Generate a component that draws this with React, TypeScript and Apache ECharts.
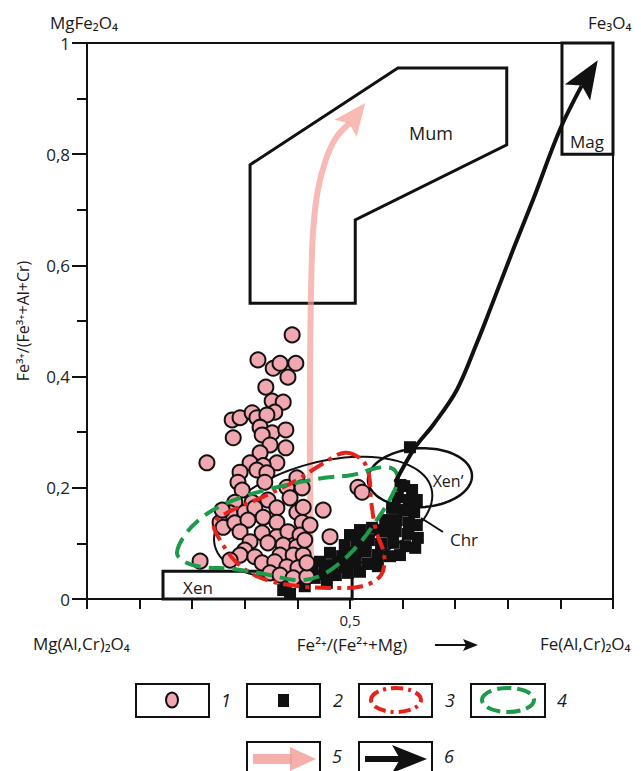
import React, { useEffect, useRef } from "react";
import * as echarts from "echarts";

// ---- data (x = Fe2+/(Fe2+ + Mg), y = Fe3+/(Fe3+ + Al + Cr)) ----
const pinkCircles: [number, number][] = [
  [0.390, 0.475], [0.325, 0.430], [0.354, 0.415], [0.367, 0.424], [0.397, 0.424],
  [0.382, 0.399], [0.340, 0.381], [0.352, 0.356], [0.373, 0.354], [0.357, 0.336],
  [0.276, 0.322], [0.291, 0.326], [0.314, 0.335], [0.323, 0.326], [0.342, 0.331],
  [0.278, 0.290], [0.329, 0.309], [0.352, 0.299], [0.378, 0.304], [0.333, 0.295],
  [0.348, 0.277], [0.378, 0.272], [0.228, 0.245], [0.329, 0.263], [0.361, 0.245],
  [0.310, 0.245], [0.335, 0.240], [0.291, 0.228], [0.323, 0.232], [0.342, 0.227],
  [0.287, 0.210], [0.338, 0.210], [0.295, 0.196], [0.380, 0.201], [0.399, 0.218],
  [0.409, 0.200], [0.281, 0.174], [0.314, 0.174], [0.344, 0.178], [0.386, 0.182],
  [0.272, 0.155], [0.300, 0.156], [0.319, 0.164], [0.361, 0.164], [0.335, 0.147],
  [0.361, 0.138], [0.399, 0.156], [0.409, 0.138], [0.253, 0.138], [0.259, 0.129],
  [0.281, 0.137], [0.306, 0.142], [0.291, 0.121], [0.333, 0.119], [0.361, 0.112],
  [0.382, 0.121], [0.405, 0.115], [0.310, 0.103], [0.344, 0.101], [0.373, 0.097],
  [0.399, 0.094], [0.300, 0.088], [0.291, 0.079], [0.319, 0.076], [0.367, 0.079],
  [0.392, 0.079], [0.411, 0.079], [0.272, 0.070], [0.215, 0.068], [0.333, 0.065],
  [0.357, 0.067], [0.380, 0.058], [0.401, 0.056], [0.348, 0.047], [0.367, 0.043],
  [0.392, 0.038], [0.418, 0.040], [0.449, 0.160], [0.462, 0.112], [0.515, 0.201],
  [0.523, 0.192], [0.414, 0.106], [0.418, 0.065], [0.411, 0.165], [0.424, 0.133],
  [0.257, 0.160],
];

const blackSquares: [number, number][] = [
  [0.614, 0.273], [0.603, 0.203], [0.618, 0.196], [0.591, 0.183], [0.612, 0.178],
  [0.580, 0.164], [0.603, 0.160], [0.622, 0.156], [0.567, 0.142], [0.589, 0.142],
  [0.612, 0.138], [0.627, 0.133], [0.542, 0.128], [0.565, 0.121], [0.587, 0.122],
  [0.610, 0.117], [0.629, 0.110], [0.519, 0.124], [0.500, 0.115], [0.490, 0.097],
  [0.513, 0.103], [0.536, 0.106], [0.559, 0.099], [0.582, 0.101], [0.605, 0.095],
  [0.462, 0.083], [0.485, 0.077], [0.508, 0.083], [0.530, 0.085], [0.553, 0.079],
  [0.576, 0.077], [0.443, 0.067], [0.466, 0.061], [0.489, 0.059], [0.511, 0.065],
  [0.534, 0.063], [0.428, 0.049], [0.451, 0.045], [0.473, 0.043], [0.496, 0.047],
  [0.405, 0.034], [0.378, 0.027], [0.386, 0.009], [0.373, 0.016],
  [0.596, 0.205], [0.627, 0.178], [0.585, 0.164], [0.557, 0.124],
  [0.529, 0.095], [0.504, 0.070], [0.477, 0.067], [0.452, 0.059], [0.433, 0.038],
  [0.456, 0.029], [0.414, 0.023], [0.624, 0.092], [0.595, 0.079], [0.553, 0.059],
  [0.519, 0.049],
];

// field outlines
const mumField: [number, number][] = [
  [0.310, 0.781], [0.591, 0.955], [0.798, 0.955], [0.798, 0.817],
  [0.510, 0.682], [0.510, 0.532], [0.310, 0.532],
];
const magField: [number, number][] = [[0.903, 0.8], [1.0, 0.8], [1.0, 1.0], [0.903, 1.0]];
const xenField: [number, number][] = [[0.1445, 0], [0.504, 0], [0.504, 0.05], [0.1445, 0.05]];

// contour 3 (red, dash-dot)
const contourRed: [number, number][] = [
  [0.490, 0.263], [0.523, 0.250], [0.536, 0.223], [0.540, 0.178], [0.549, 0.124],
  [0.565, 0.079], [0.559, 0.043], [0.523, 0.023], [0.462, 0.020], [0.386, 0.025],
  [0.325, 0.040], [0.283, 0.067], [0.255, 0.103], [0.241, 0.135], [0.268, 0.156],
  [0.333, 0.183], [0.399, 0.214], [0.447, 0.243],
];
// contour 4 (green, dashed)
const contourGreen: [number, number][] = [
  [0.171, 0.083], [0.186, 0.115], [0.215, 0.144], [0.253, 0.167], [0.300, 0.185],
  [0.348, 0.198], [0.399, 0.209], [0.452, 0.218], [0.504, 0.223], [0.553, 0.236],
  [0.582, 0.234], [0.591, 0.216], [0.578, 0.183], [0.551, 0.142], [0.519, 0.101],
  [0.481, 0.065], [0.439, 0.040], [0.397, 0.034], [0.338, 0.045], [0.278, 0.054],
  [0.215, 0.058], [0.183, 0.068],
];

// ellipses: center, semi-axes (data units), rotation (deg)
const chrEllipse = { center: [0.449, 0.147], radii: [0.213, 0.099], rot: 15 };
const xenPrimeEllipse = { center: [0.633, 0.218], radii: [0.099, 0.053], rot: 3 };

// trends
const trendPink: [number, number][] = [
  [0.426, 0.059], [0.424, 0.214], [0.424, 0.394], [0.426, 0.556], [0.430, 0.664],
  [0.439, 0.736], [0.454, 0.790], [0.473, 0.829], [0.492, 0.847], [0.529, 0.892],
];
const trendBlack: [number, number][] = [
  [0.586, 0.210], [0.624, 0.273], [0.658, 0.313], [0.703, 0.376], [0.741, 0.460],
  [0.766, 0.520], [0.810, 0.628], [0.848, 0.718], [0.899, 0.844], [0.933, 0.912],
  [0.971, 0.969],
];

const FONT = "'Open Sans', 'DejaVu Sans', sans-serif";
const PINK = "#f1a7b0";
const RED = "#e4231c";
const GREEN = "#1e9b4a";
const ARROW_PINK = "#f39c96";

function polygonItem(points: [number, number][], style: any, smooth = 0) {
  return (params: any, api: any) => {
    if (params.dataIndex !== 0) return null;
    const pts = points.map((p) => api.coord(p));
    return {
      type: "polygon",
      shape: { points: pts, smooth },
      style: { fill: null, ...style },
    };
  };
}

function ellipseItem(e: { center: number[]; radii: number[]; rot: number }, style: any) {
  return (params: any, api: any) => {
    if (params.dataIndex !== 0) return null;
    const c = api.coord(e.center);
    const rx = api.size([e.radii[0], 0])[0];
    const ry = api.size([0, e.radii[1]])[1];
    const th = (e.rot * Math.PI) / 180;
    const pts: number[][] = [];
    for (let i = 0; i < 96; i++) {
      const t = (i / 96) * Math.PI * 2;
      const ex = rx * Math.cos(t);
      const ey = ry * Math.sin(t);
      pts.push([c[0] + ex * Math.cos(th) - ey * Math.sin(th), c[1] - (ex * Math.sin(th) + ey * Math.cos(th))]);
    }
    return { type: "polygon", shape: { points: pts }, style: { fill: null, ...style } };
  };
}

function arrowItem(points: [number, number][], color: string, width: number, headLen: number, headHalf: number, notch: number, opacity: number) {
  return (params: any, api: any) => {
    if (params.dataIndex !== 0) return null;
    const pts = points.map((p) => api.coord(p));
    const tip = pts[pts.length - 1];
    const prev = pts[pts.length - 2];
    let dx = tip[0] - prev[0];
    let dy = tip[1] - prev[1];
    const len = Math.hypot(dx, dy);
    dx /= len;
    dy /= len;
    const base = [tip[0] - dx * headLen, tip[1] - dy * headLen];
    const nx = -dy;
    const ny = dx;
    const c1 = [base[0] + nx * headHalf, base[1] + ny * headHalf];
    const c2 = [base[0] - nx * headHalf, base[1] - ny * headHalf];
    const nt = [tip[0] - dx * (headLen - notch), tip[1] - dy * (headLen - notch)];
    const shaft = pts.slice(0, -2).concat([nt]);
    return {
      type: "group",
      children: [
        { type: "polyline", shape: { points: shaft, smooth: 0.35 }, style: { stroke: color, lineWidth: width, fill: null, opacity } },
        { type: "polygon", shape: { points: [tip, c1, nt, c2] }, style: { fill: color, opacity } },
      ],
    };
  };
}

function fmt(v: number) {
  if (Math.abs(v) < 1e-9) return "0";
  if (Math.abs(v - 1) < 1e-9) return "1";
  return v.toFixed(1).replace(".", ",");
}

const App: React.FC = () => {
  const ref = useRef<HTMLDivElement>(null);
  useEffect(() => {
    document.body.style.margin = "0";
    if (!ref.current) return;
    const chart = echarts.init(ref.current, null, { renderer: "svg" });
    const txt = (text: string, x: number, y: number, extra: any = {}) => ({
      type: "text",
      x,
      y,
      style: { text, fill: "#1a1a1a", font: `17px ${FONT}`, textAlign: "left", textVerticalAlign: "middle", ...extra },
    });
    const box = (x: number, y: number, w: number, h: number) => ({
      type: "rect",
      shape: { x, y, width: w, height: h },
      style: { fill: "#fff", stroke: "#111", lineWidth: 2 },
    });
    const num = (text: string, x: number, y: number) => txt(text, x, y, { font: `italic 18px ${FONT}`, textAlign: "center" });

    chart.setOption({
      animation: false,
      backgroundColor: "#fff",
      textStyle: { fontFamily: FONT },
      grid: { left: 87, top: 43, right: 28, bottom: 172, show: true, borderColor: "#111", borderWidth: 2 },
      xAxis: {
        type: "value",
        min: 0,
        max: 1,
        interval: 0.1,
        splitLine: { show: false },
        axisLine: { lineStyle: { color: "#111", width: 2 } },
        axisTick: { length: 10, lineStyle: { color: "#111", width: 2 } },
        axisLabel: {
          margin: 13,
          color: "#222",
          fontSize: 15,
          fontFamily: FONT,
          formatter: (v: number) => (Math.abs(v - 0.5) < 1e-6 ? "0,5" : ""),
        },
      },
      yAxis: {
        type: "value",
        min: 0,
        max: 1,
        interval: 0.2,
        name: "Fe³⁺/(Fe³⁺+Al+Cr)",
        nameLocation: "middle",
        nameRotate: 90,
        nameGap: 56,
        nameTextStyle: { color: "#1a1a1a", fontSize: 16, fontFamily: FONT },
        splitLine: { show: false },
        axisLine: { lineStyle: { color: "#111", width: 2 } },
        axisTick: { length: 15, lineStyle: { color: "#111", width: 2 } },
        minorTick: { show: true, splitNumber: 2, length: 10, lineStyle: { color: "#111", width: 2 } },
        minorSplitLine: { show: false },
        axisLabel: { margin: 17, color: "#222", fontSize: 17, fontFamily: FONT, formatter: fmt },
      },
      series: [
        { type: "custom", z: 2, data: [[0, 0]], renderItem: polygonItem(mumField, { stroke: "#111", lineWidth: 3 }) },
        { type: "custom", z: 2, data: [[0, 0]], renderItem: polygonItem(magField, { stroke: "#111", lineWidth: 3 }) },
        { type: "custom", z: 2, data: [[0, 0]], renderItem: polygonItem(xenField, { stroke: "#111", lineWidth: 3 }) },
        { type: "custom", z: 3, data: [[0, 0]], renderItem: arrowItem(trendPink, ARROW_PINK, 6, 32, 14, 6, 0.7) },
        { type: "custom", z: 3, data: [[0, 0]], renderItem: ellipseItem(chrEllipse, { stroke: "#111", lineWidth: 2 }) },
        { type: "custom", z: 3, data: [[0, 0]], renderItem: ellipseItem(xenPrimeEllipse, { stroke: "#111", lineWidth: 2.5 }) },
        {
          type: "scatter",
          z: 4,
          symbol: "rect",
          symbolSize: 12,
          data: blackSquares,
          itemStyle: { color: "#111", opacity: 1 },
        },
        {
          type: "scatter",
          z: 5,
          symbol: "circle",
          symbolSize: 15,
          data: pinkCircles,
          itemStyle: { color: PINK, borderColor: "#111", borderWidth: 2, opacity: 1 },
        },
        { type: "custom", z: 6, data: [[0, 0]], renderItem: polygonItem(contourRed, { stroke: RED, lineWidth: 4, lineDash: [16, 6, 4, 6] }, 0.35) },
        { type: "custom", z: 6, data: [[0, 0]], renderItem: polygonItem(contourGreen, { stroke: GREEN, lineWidth: 4, lineDash: [16, 8] }, 0.35) },
        { type: "custom", z: 7, data: [[0, 0]], renderItem: arrowItem(trendBlack, "#111", 4, 38, 15, 8, 1) },
      ],
      graphic: [
        txt("MgFe₂O₄", 50, 22),
        txt("Fe₃O₄", 588, 22),
        txt("Mum", 431, 133, { textAlign: "center", font: `18px ${FONT}` }),
        txt("Mag", 587, 141, { textAlign: "center" }),
        txt("Xen", 198, 587, { textAlign: "center" }),
        txt("Xen’", 448, 481, { textAlign: "center", font: `16px ${FONT}` }),
        txt("Chr", 464, 539, { textAlign: "center" }),
        { type: "line", shape: { x1: 421, y1: 518, x2: 443, y2: 532 }, style: { stroke: "#111", lineWidth: 2 } },
        txt("Mg(Al,Cr)₂O₄", 33, 643),
        txt("Fe²⁺/(Fe²⁺+Mg)", 352, 644, { textAlign: "center" }),
        { type: "line", shape: { x1: 435, y1: 645, x2: 466, y2: 645 }, style: { stroke: "#111", lineWidth: 2 } },
        { type: "polygon", shape: { points: [[478, 645], [463, 639], [466, 645], [463, 651]] }, style: { fill: "#111" } },
        txt("Fe(Al,Cr)₂O₄", 540, 643),
        // legend row 1
        box(136, 684, 73, 33),
        { type: "ellipse", shape: { cx: 172, cy: 700, rx: 6, ry: 7.5 }, style: { fill: PINK, stroke: "#111", lineWidth: 2 } },
        num("1", 226, 700),
        box(247, 684, 73, 33),
        { type: "rect", shape: { x: 278, y: 694, width: 11, height: 13 }, style: { fill: "#111" } },
        num("2", 338, 700),
        box(359, 684, 73, 33),
        { type: "ellipse", shape: { cx: 396, cy: 700, rx: 25, ry: 12 }, style: { fill: null, stroke: RED, lineWidth: 4, lineDash: [12, 5, 3, 5] } },
        num("3", 450, 700),
        box(471, 684, 74, 33),
        { type: "ellipse", shape: { cx: 508, cy: 700, rx: 26, ry: 12 }, style: { fill: null, stroke: GREEN, lineWidth: 4, lineDash: [14, 6] } },
        num("4", 562, 700),
        // legend row 2
        box(247, 742, 73, 36),
        { type: "line", shape: { x1: 253, y1: 759, x2: 292, y2: 759 }, style: { stroke: ARROW_PINK, lineWidth: 10, opacity: 0.8 } },
        { type: "polygon", shape: { points: [[316, 759], [290, 747], [290, 771]] }, style: { fill: ARROW_PINK, opacity: 0.8 } },
        num("5", 337, 756),
        box(359, 742, 73, 36),
        { type: "line", shape: { x1: 365, y1: 759, x2: 400, y2: 759 }, style: { stroke: "#111", lineWidth: 6 } },
        { type: "polygon", shape: { points: [[427, 759], [392, 745], [400, 759], [392, 773]] }, style: { fill: "#111" } },
        num("6", 449, 756),
      ],
    });
    return () => chart.dispose();
  }, []);
  return <div ref={ref} style={{ width: 641, height: 771 }} />;
};

export default App;
